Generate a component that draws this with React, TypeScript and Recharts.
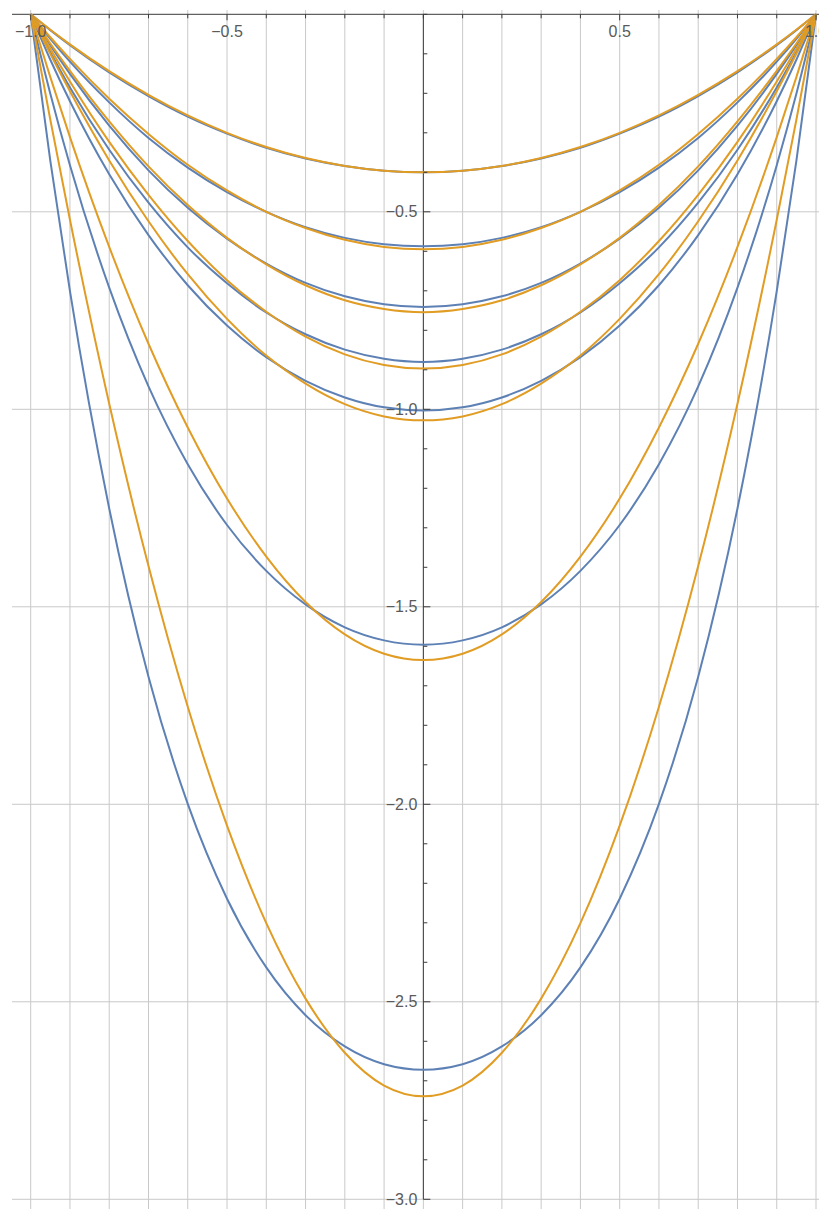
import { LineChart, Line, XAxis, YAxis, CartesianGrid, ReferenceLine } from "recharts"

// ── Data ───────────────────────────────────────────────────────────────────

const XS = [-1, -0.95, -0.9, -0.8, -0.7, -0.6, -0.5, -0.4, -0.3, -0.2, -0.1, 0, 0.1, 0.2, 0.3, 0.4, 0.5, 0.6, 0.7, 0.8, 0.9, 0.95, 1]

const BLUE_1 = [0, -0.040, -0.078, -0.147, -0.207, -0.259, -0.302, -0.338, -0.365, -0.384, -0.396, -0.400, -0.396, -0.384, -0.365, -0.338, -0.302, -0.259, -0.207, -0.147, -0.078, -0.040, 0]
const ORANGE_1 = [0, -0.039, -0.076, -0.144, -0.204, -0.256, -0.300, -0.336, -0.364, -0.384, -0.396, -0.400, -0.396, -0.384, -0.364, -0.336, -0.300, -0.256, -0.204, -0.144, -0.076, -0.039, 0]
const BLUE_2 = [0, -0.062, -0.120, -0.223, -0.313, -0.388, -0.450, -0.500, -0.539, -0.566, -0.582, -0.587, -0.582, -0.566, -0.539, -0.500, -0.450, -0.388, -0.313, -0.223, -0.120, -0.062, 0]
const ORANGE_2 = [0, -0.058, -0.113, -0.214, -0.303, -0.381, -0.446, -0.500, -0.541, -0.571, -0.589, -0.595, -0.589, -0.571, -0.541, -0.500, -0.446, -0.381, -0.303, -0.214, -0.113, -0.058, 0]
const BLUE_3 = [0, -0.078, -0.151, -0.282, -0.395, -0.490, -0.568, -0.631, -0.680, -0.714, -0.734, -0.741, -0.734, -0.714, -0.680, -0.631, -0.568, -0.490, -0.395, -0.282, -0.151, -0.078, 0]
const ORANGE_3 = [0, -0.074, -0.143, -0.271, -0.385, -0.483, -0.566, -0.633, -0.686, -0.724, -0.746, -0.754, -0.746, -0.724, -0.686, -0.633, -0.566, -0.483, -0.385, -0.271, -0.143, -0.074, 0]
const BLUE_4 = [0, -0.096, -0.185, -0.343, -0.477, -0.590, -0.681, -0.755, -0.810, -0.849, -0.872, -0.880, -0.872, -0.849, -0.810, -0.755, -0.681, -0.590, -0.477, -0.343, -0.185, -0.096, 0]
const ORANGE_4 = [0, -0.087, -0.170, -0.323, -0.457, -0.574, -0.673, -0.753, -0.816, -0.861, -0.888, -0.897, -0.888, -0.861, -0.816, -0.753, -0.673, -0.574, -0.457, -0.323, -0.170, -0.087, 0]
const BLUE_5 = [0, -0.115, -0.220, -0.405, -0.559, -0.686, -0.788, -0.868, -0.928, -0.970, -0.995, -1.003, -0.995, -0.970, -0.928, -0.868, -0.788, -0.686, -0.559, -0.405, -0.220, -0.115, 0]
const ORANGE_5 = [0, -0.100, -0.195, -0.370, -0.524, -0.658, -0.771, -0.864, -0.935, -0.987, -1.018, -1.028, -1.018, -0.987, -0.935, -0.864, -0.771, -0.658, -0.524, -0.370, -0.195, -0.100, 0]
const BLUE_6 = [0, -0.201, -0.382, -0.692, -0.942, -1.139, -1.293, -1.409, -1.494, -1.552, -1.585, -1.596, -1.585, -1.552, -1.494, -1.409, -1.293, -1.139, -0.942, -0.692, -0.382, -0.201, 0]
const ORANGE_6 = [0, -0.159, -0.311, -0.589, -0.834, -1.046, -1.226, -1.373, -1.488, -1.570, -1.619, -1.635, -1.619, -1.570, -1.488, -1.373, -1.226, -1.046, -0.834, -0.589, -0.311, -0.159, 0]
const BLUE_7 = [0, -0.371, -0.701, -1.251, -1.677, -1.999, -2.239, -2.413, -2.534, -2.613, -2.658, -2.672, -2.658, -2.613, -2.534, -2.413, -2.239, -1.999, -1.677, -1.251, -0.701, -0.371, 0]
const ORANGE_7 = [0, -0.267, -0.520, -0.986, -1.397, -1.753, -2.054, -2.301, -2.492, -2.629, -2.712, -2.739, -2.712, -2.629, -2.492, -2.301, -2.054, -1.753, -1.397, -0.986, -0.520, -0.267, 0]

const BLUES = [BLUE_1, BLUE_2, BLUE_3, BLUE_4, BLUE_5, BLUE_6, BLUE_7]
const ORANGES = [ORANGE_1, ORANGE_2, ORANGE_3, ORANGE_4, ORANGE_5, ORANGE_6, ORANGE_7]

const X_TICKS = [-1, -0.9, -0.8, -0.7, -0.6, -0.5, -0.4, -0.3, -0.2, -0.1, 0, 0.1, 0.2, 0.3, 0.4, 0.5, 0.6, 0.7, 0.8, 0.9, 1]
const X_LABELED = [-1, -0.5, 0.5, 1]
const Y_TICKS = [0, -0.1, -0.2, -0.3, -0.4, -0.5, -0.6, -0.7, -0.8, -0.9, -1, -1.1, -1.2, -1.3, -1.4, -1.5, -1.6, -1.7, -1.8, -1.9, -2, -2.1, -2.2, -2.3, -2.4, -2.5, -2.6, -2.7, -2.8, -2.9, -3]
const Y_LABELED = [-0.5, -1, -1.5, -2, -2.5, -3]

// ── Layout ─────────────────────────────────────────────────────────────────

const W = 819
const H = 1201
// the axes take 1px each (a 0px axis is not drawn at all)
const MARGIN = { top: 1, right: 0, bottom: 0, left: 3 }
const PLOT_LEFT = 4
const PLOT_TOP = 2
const X_DOMAIN = [-1.0476, 1.028]
const Y_DOMAIN = [-3.0246, 0.0109]

const PLOT_W = W - PLOT_LEFT - MARGIN.right
const PLOT_H = H - PLOT_TOP - MARGIN.bottom
// pixel position of the axes (they cross at the origin, Mathematica-style)
const X0 = PLOT_LEFT + ((0 - X_DOMAIN[0]) / (X_DOMAIN[1] - X_DOMAIN[0])) * PLOT_W
const Y0 = PLOT_TOP + ((Y_DOMAIN[1] - 0) / (Y_DOMAIN[1] - Y_DOMAIN[0])) * PLOT_H

const BLUE = "#5E81B5"
const ORANGE = "#E19C24"
const GRID = "#c9c9c9"
const AXIS = "#3a3a3a"

const data = XS.map((x, i) => {
  const row: Record<string, number> = { x }
  BLUES.forEach((s, k) => (row[`b${k + 1}`] = s[i]))
  ORANGES.forEach((s, k) => (row[`o${k + 1}`] = s[i]))
  return row
})

const fmt = (v: number) => v.toFixed(1).replace("-", "\u2212")
const isLabeled = (list: number[], v: number) => list.some((l) => Math.abs(l - v) < 1e-6)

const labelStyle = {
  fontSize: "16px",
  fill: "#5a5a5a",
  fontFamily: "'Liberation Sans', Arial, sans-serif",
}

function XTick({ x, payload }: any) {
  const major = isLabeled(X_LABELED, payload.value)
  return (
    <g>
      <line x1={x} x2={x} y1={Y0} y2={Y0 + (major ? 6 : 4)} stroke={AXIS} />
      {major && (
        <text x={x} y={Y0 + 23} textAnchor="middle" style={labelStyle}>
          {fmt(payload.value)}
        </text>
      )}
    </g>
  )
}

function YTick({ y, payload }: any) {
  const major = isLabeled(Y_LABELED, payload.value)
  return (
    <g>
      <line x1={X0} x2={X0 + (major ? 7 : 4)} y1={y} y2={y} stroke={AXIS} />
      {major && (
        <text x={X0 - 6} y={y} dy="0.35em" textAnchor="end" style={labelStyle}>
          {fmt(payload.value)}
        </text>
      )}
    </g>
  )
}

export default function App() {
  return (
    <div style={{ width: W, height: H, background: "#fff" }}>
      <LineChart width={W} height={H} data={data} margin={MARGIN}>
        <CartesianGrid
          stroke={GRID}
          verticalValues={X_TICKS}
          horizontalValues={Y_LABELED}
        />
        <XAxis
          dataKey="x"
          type="number"
          domain={X_DOMAIN}
          ticks={X_TICKS}
          interval={0}
          orientation="top"
          height={1}
          axisLine={false}
          tickLine={false}
          tick={XTick}
          allowDataOverflow
        />
        <YAxis
          type="number"
          domain={Y_DOMAIN}
          ticks={Y_TICKS}
          interval={0}
          width={1}
          axisLine={false}
          tickLine={false}
          tick={YTick}
          allowDataOverflow
        />
        <ReferenceLine y={0} stroke={AXIS} />
        <ReferenceLine segment={[{ x: 0, y: 0 }, { x: 0, y: -3 }]} stroke={AXIS} />
        {BLUES.map((_, k) => [
          <Line
            key={`b${k}`}
            dataKey={`b${k + 1}`}
            type="monotone"
            stroke={BLUE}
            strokeWidth={2}
            dot={false}
            isAnimationActive={false}
          />,
          <Line
            key={`o${k}`}
            dataKey={`o${k + 1}`}
            type="monotone"
            stroke={ORANGE}
            strokeWidth={2}
            dot={false}
            isAnimationActive={false}
          />,
        ])}
      </LineChart>
    </div>
  )
}
